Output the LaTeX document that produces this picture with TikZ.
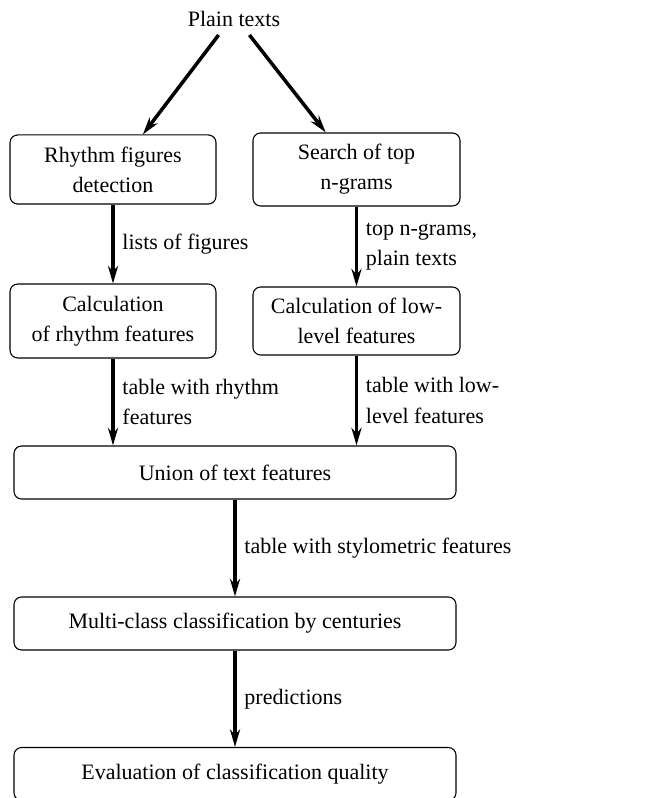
\documentclass[tikz,border=0pt]{standalone}
\usepackage{fontspec}
\setmainfont{Liberation Serif}
\usetikzlibrary{arrows.meta}
\tikzset{box/.style={draw, rounded corners=3.5pt, line width=0.5pt, align=center, inner sep=0pt},
  flow/.style={-{Stealth[length=8pt,width=4.6pt]}, line width=1.6pt},
  lab/.style={right, align=left, inner sep=3.5pt}}
\begin{document}
\begin{tikzpicture}[x=0.4545pt, y=-0.4545pt, font=\fontsize{10}{13.7}\selectfont, line join=round]
\useasboundingbox (0,0) rectangle (649,798);
\node[anchor=base] (plain) at (234,27) {Plain texts};
\node[box, minimum width=93.6pt, minimum height=31.4pt] (rhythm) at (113,169.5) {Rhythm figures\\detection};
\node[box, minimum width=94.1pt, minimum height=33.2pt] (search) at (356.5,169.5) {Search of top\\n-grams};
\node[box, minimum width=93.6pt, minimum height=33.6pt] (calcr) at (113,321) {Calculation\\of rhythm features};
\node[box, minimum width=94.1pt, minimum height=30.9pt] (calcl) at (356.5,321) {Calculation of low-\\level features};
\node[box, minimum width=200.9pt, minimum height=24.1pt] (union) at (235,472.5) {Union of text features};
\node[box, minimum width=200.9pt, minimum height=24.1pt] (multi) at (235,623.5) {Multi-class classification by centuries};
\node[box, minimum width=200.9pt, minimum height=24.1pt] (eval) at (235,774) {Evaluation of classification quality};
% connectors
\draw[flow] ([xshift=-7pt]plain.south) -- ([xshift=13.6pt]rhythm.north);
\draw[flow] ([xshift=7pt]plain.south) -- ([xshift=-14pt]search.north);
\draw[flow] (rhythm) -- node[lab] {lists of figures} (calcr);
\draw[flow] (search) -- node[lab] {top n-grams,\\plain texts} (calcl);
\draw[flow] (calcr.south) -- node[lab] {table with rhythm\\features} (calcr.south |- union.north);
\draw[flow] (calcl.south) -- node[lab] {table with low-\\level features} (calcl.south |- union.north);
\draw[flow] (union) -- node[lab] {table with stylometric features} (multi);
\draw[flow] (multi) -- node[lab] {predictions} (eval);
\end{tikzpicture}
\end{document}
